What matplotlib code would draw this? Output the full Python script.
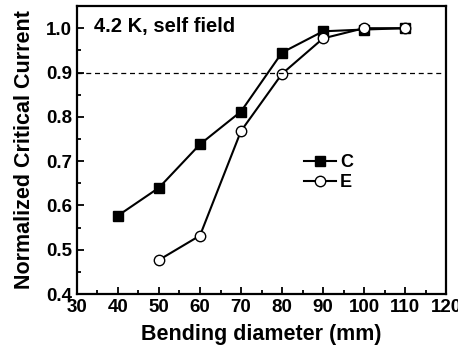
import matplotlib
matplotlib.use('Agg')
import matplotlib.pyplot as plt
from matplotlib.ticker import MultipleLocator

plt.rcParams['font.family'] = ['Liberation Sans', 'DejaVu Sans']
plt.rcParams['font.weight'] = 'bold'

# bending diameter (mm) and normalized Ic
d_c = [40, 50, 60, 70, 80, 90, 100, 110]
ic_c = [0.577, 0.640, 0.738, 0.812, 0.945, 0.993, 0.997, 1.000]
d_e = [50, 60, 70, 80, 90, 100, 110]
ic_e = [0.477, 0.532, 0.768, 0.897, 0.977, 1.000, 1.000]

fig = plt.figure(figsize=(4.58, 3.56), dpi=100)
ax = fig.add_axes([0.168, 0.174, 0.806, 0.809])

ax.plot(d_c, ic_c, color='black', lw=1.5, marker='s', ms=6.5,
        mfc='black', mec='black', label='C')
ax.plot(d_e, ic_e, color='black', lw=1.5, marker='o', ms=7.5,
        mfc='white', mec='black', mew=1.0, label='E')

ax.axhline(0.9, color='black', lw=0.9, ls=(0, (4, 3)))

ax.set_xlim(30, 120)
ax.set_ylim(0.4, 1.05)
ax.xaxis.set_major_locator(MultipleLocator(10))
ax.xaxis.set_minor_locator(MultipleLocator(5))
ax.yaxis.set_major_locator(MultipleLocator(0.1))
ax.yaxis.set_minor_locator(MultipleLocator(0.05))
ax.tick_params(which='both', direction='in', top=False, right=False,
               labelsize=13.5, width=1.3)
ax.tick_params(which='major', length=5)
ax.tick_params(which='minor', length=3)
for lbl in ax.get_xticklabels() + ax.get_yticklabels():
    lbl.set_fontweight('bold')
for s in ax.spines.values():
    s.set_linewidth(1.6)

ax.set_xlabel('Bending diameter (mm)', fontsize=15.5, fontweight='bold', labelpad=6)
ax.set_ylabel('Normalized Critical Current', fontsize=15.5, fontweight='bold', labelpad=8)

ax.text(0.045, 0.93, '4.2 K, self field', transform=ax.transAxes,
        fontsize=14.5, fontweight='bold', va='center', ha='left')

leg = ax.legend(loc='upper left', bbox_to_anchor=(0.595, 0.51), frameon=False,
                fontsize=13, handlelength=1.8, handletextpad=0.2,
                labelspacing=0.15, borderaxespad=0)
for t in leg.get_texts():
    t.set_fontweight('bold')

fig.savefig('out.png', dpi=100)
